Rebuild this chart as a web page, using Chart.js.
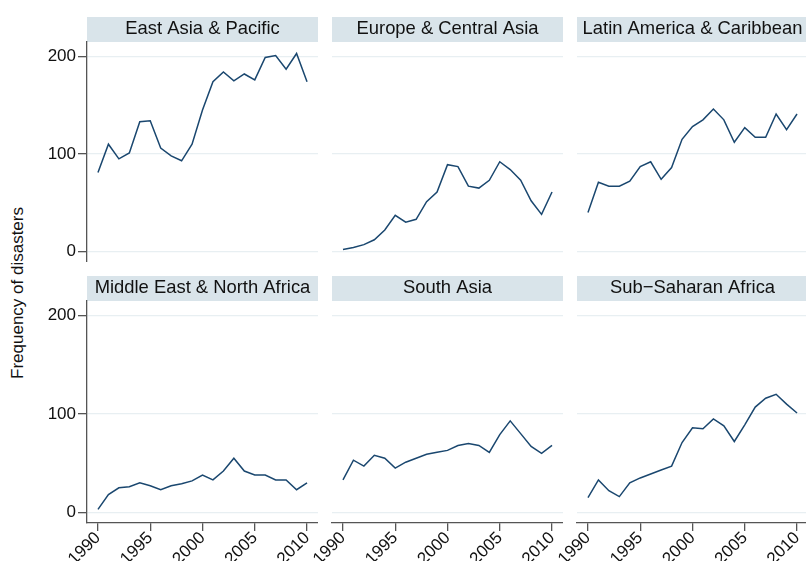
<!DOCTYPE html>
<html><head><meta charset="utf-8">
<script src="https://cdn.jsdelivr.net/npm/chart.js@4"></script>
<style>
html,body{margin:0;padding:0;background:#fff;overflow:hidden;width:806px;height:561px;}
#wrap{position:relative;width:806px;height:561px;overflow:hidden;background:#fff;}
canvas{position:absolute;}
#ytitle{position:absolute;left:18px;top:293px;transform:translate(-50%,-50%) rotate(-90deg);font:17px "Liberation Sans",Arial,sans-serif;white-space:nowrap;color:#111;}
</style></head>
<body><div id="wrap"><div id="ytitle">Frequency of disasters</div></div>
<script>
const years = [1990,1991,1992,1993,1994,1995,1996,1997,1998,1999,2000,2001,2002,2003,2004,2005,2006,2007,2008,2009,2010];
const xTicks = [1990,1995,2000,2005,2010];
const yTicks = [0,100,200];
const regions = ["East Asia & Pacific","Europe & Central Asia","Latin America & Caribbean","Middle East & North Africa","South Asia","Sub\u2212Saharan Africa"];
const eastAsia  = [81,110,95,101,133,134,106,98,93,110,145,174,184,175,182,176,199,201,187,203,174];
const europe    = [2,4,7,12,22,37,30,33,51,61,89,87,67,65,73,92,84,73,52,38,61];
const latin     = [40,71,67,67,72,87,92,74,86,115,128,135,146,135,112,127,117,117,141,125,141];
const mena      = [3,18,25,26,30,27,23,27,29,32,38,33,42,55,42,38,38,33,33,23,30];
const southAsia = [33,53,47,58,55,45,51,55,59,61,63,68,70,68,61,79,93,80,67,60,68];
const ssa       = [15,33,22,16,30,35,39,43,47,71,86,85,95,88,72,89,107,116,120,110,101];
const series = [eastAsia, europe, latin, mena, southAsia, ssa];

const FONT = '"Liberation Sans", Arial, sans-serif';
const LINE = '#1a476f';
const GRID = '#e8eff2';
const AXIS = '#555555';

const stripPlugin = {
  id: 'strip',
  beforeDraw(chart, args, opts) {
    const {ctx, chartArea: a} = chart;
    ctx.save();
    ctx.fillStyle = '#d9e4ea';
    ctx.fillRect(a.left, a.top - 25, a.right - a.left, 25);
    ctx.fillStyle = '#111';
    ctx.font = '18.4px ' + FONT;
    ctx.textAlign = 'center';
    ctx.textBaseline = 'middle';
    ctx.fillText(opts.text, (a.left + a.right) / 2, a.top - 13);
    ctx.restore();
  }
};

const wrap = document.getElementById('wrap');
// canvas left edge, left padding inside canvas, plot width
const colLeft = [0, 292, 537];
const colPad = [0, 40, 40];
const plotW = 231;

series.forEach((vals, i) => {
  const row = Math.floor(i / 3), col = i % 3;
  const showY = col === 0;
  const showX = row === 1;
  const c = document.createElement('canvas');
  const w = (showY ? 87 : colPad[col]) + plotW;
  const h = row === 0 ? 262 : 299;
  c.width = w; c.height = h;
  c.style.left = colLeft[col] + 'px';
  c.style.top = (row === 0 ? 0 : 262) + 'px';
  c.style.width = w + 'px'; c.style.height = h + 'px';
  wrap.appendChild(c);
  new Chart(c, {
    type: 'line',
    data: {
      datasets: [{
        data: years.map((y, k) => ({x: y, y: vals[k]})),
        borderColor: LINE, borderWidth: 1.5, pointRadius: 0, tension: 0, fill: false
      }]
    },
    options: {
      responsive: false, animation: false, devicePixelRatio: 1,
      layout: {padding: {top: row === 0 ? 42 : 39, left: colPad[col], right: 0, bottom: 0}},
      plugins: {legend: {display: false}, tooltip: {enabled: false}, strip: {text: regions[i]}},
      scales: {
        x: {
          type: 'linear', min: 1988.95, max: 2011.05, display: showX,
          afterBuildTicks: s => { s.ticks = xTicks.map(v => ({value: v})); },
          afterFit: s => { if (showX) { s.height = 38; } s.paddingLeft = 0; s.paddingRight = 0; },
          ticks: {font: {family: FONT, size: 17}, color: '#111', minRotation: 45, maxRotation: 45,
                  autoSkip: false, padding: -3, callback: v => String(v)},
          grid: {drawOnChartArea: false, drawTicks: true, tickLength: 8, tickColor: AXIS, lineWidth: 1.3},
          border: {display: true, color: AXIS, width: 1.3}
        },
        y: {
          min: -10.8, max: 214.8, position: 'left',
          afterBuildTicks: s => { s.ticks = yTicks.map(v => ({value: v})); },
          afterFit: s => { s.width = showY ? 87 : 0; s.paddingTop = 0; s.paddingBottom = 0; },
          ticks: {display: showY, font: {family: FONT, size: 17}, color: '#111', padding: 2},
          grid: {color: GRID, lineWidth: 1.3, drawTicks: showY, tickLength: 9, tickColor: AXIS},
          border: {display: showY, color: AXIS, width: 1.3}
        }
      }
    },
    plugins: [stripPlugin]
  });
});
</script>
</body></html>
